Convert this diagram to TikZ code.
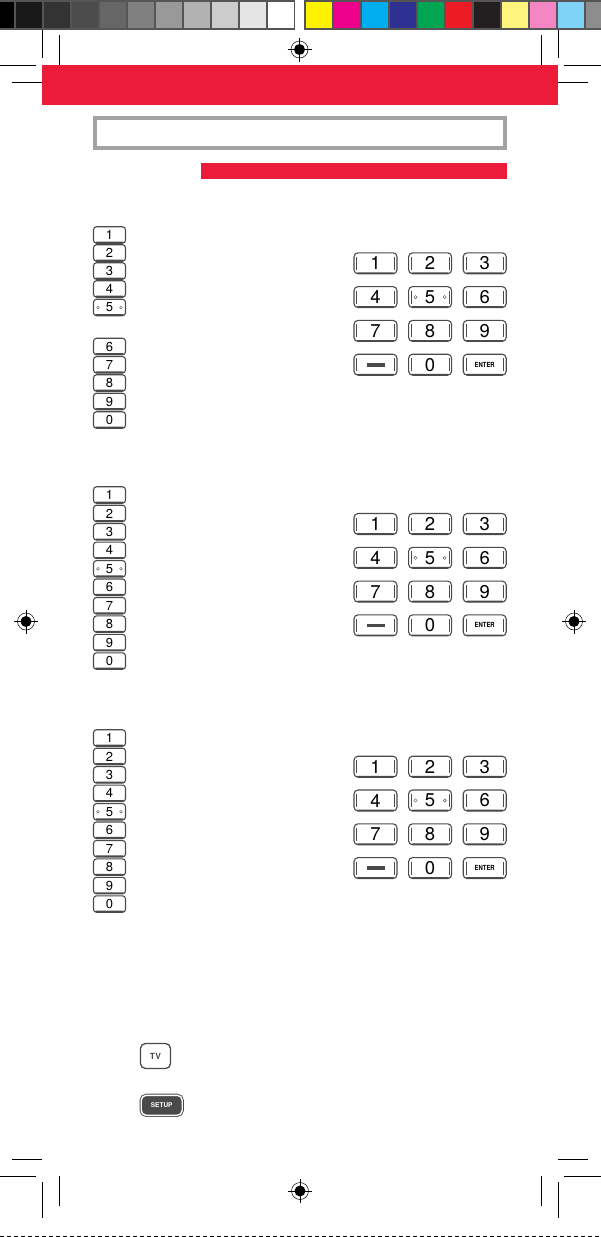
\documentclass[tikz,border=0pt]{standalone}
\usepackage{fontspec}
\setmainfont{TeX Gyre Heros}

\definecolor{bandred}{HTML}{ED1B3A}
\definecolor{boxgrey}{HTML}{A3A3A3}
\definecolor{keygrey}{HTML}{4A4A4A}
\definecolor{stripgrey}{HTML}{555555}

\def\listpitch{18.45}
\def\rowpitch{33.8}
\def\colpitch{54.6}

% registration mark, centred on the given coordinate
\newcommand\regmark[1]{%
  \draw[line width=0.5pt] #1 circle (8.5);
  \fill #1 circle (5.5);
  \draw[line width=0.7pt] #1 ++(-12,0) -- ++(24,0);
  \draw[line width=0.7pt] #1 ++(0,-12) -- ++(0,24);
}

\begin{document}
\begin{tikzpicture}[x=1pt,y=-1pt]
    \tikzstyle{list key}=[draw=keygrey, line width=1.1pt, rounded corners=3pt,
        minimum width=32pt, minimum height=16.5pt, inner sep=0pt,
        font=\fontsize{13}{13}\selectfont,
        path picture={\fill[keygrey] (path picture bounding box.south west)
            rectangle ([yshift=1.6pt]path picture bounding box.south east);}]
    \tikzstyle{pad key}=[draw=keygrey, line width=1.1pt, rounded corners=4pt,
        minimum width=43pt, minimum height=21pt, inner sep=0pt,
        font=\fontsize{18.5}{18.5}\selectfont,
        path picture={
            \draw[keygrey, line width=0.5pt]
                ([xshift=2.6pt,yshift=-4pt]path picture bounding box.north west)
                -- ([xshift=2.6pt,yshift=4pt]path picture bounding box.south west);
            \draw[keygrey, line width=0.5pt]
                ([xshift=-2.6pt,yshift=-4pt]path picture bounding box.north east)
                -- ([xshift=-2.6pt,yshift=4pt]path picture bounding box.south east);
            \fill[keygrey] (path picture bounding box.south west)
                rectangle ([yshift=1.4pt]path picture bounding box.south east);}]
    \tikzstyle{tactile}=[draw=keygrey, line width=0.4pt]
    \tikzstyle{crop}=[line width=0.9pt]

    \useasboundingbox (0,0) rectangle (601,1237);

    % Colour bar: grey steps on the left
    \fill[stripgrey] (0,0) rectangle (295,29.5);
    \foreach \i in {0,...,10} {
        \pgfmathsetmacro{\xa}{max(0,-12+28*\i)}
        \pgfmathsetmacro{\g}{100-10*\i}
        \fill[black!\g] (\xa,2) rectangle (-12+28*\i+26,28);
    }

    % Colour bar: process colours on the right
    \fill[stripgrey] (304,0) rectangle (601,29.5);
    \foreach \j / \c in {0/FFF200,1/EC008C,2/00AEEF,3/2E3192,4/00A651,5/ED1C24,
                         6/231F20,7/FFF57D,8/F386C3,9/7FD3F7,10/8D8D8D} {
        \definecolor{patch}{HTML}{\c}
        \fill[patch] (306+28*\j,2) rectangle ({min(601,332+28*\j)},28);
    }

    % Crop marks
    \draw[crop] (42,30) -- (42,58);
    \draw[crop] (59,35) -- (59,65);
    \draw[crop] (0,65.3) -- (36,65.3);
    \draw[crop] (12,82) -- (42,82);
    \draw[crop] (558,30) -- (558,58);
    \draw[crop] (541,35) -- (541,65);
    \draw[crop] (564,65.3) -- (601,65.3);
    \draw[crop] (558,82) -- (588,82);
    \draw[crop] (12,1159.3) -- (42,1159.3);
    \draw[crop] (0,1176.3) -- (36,1176.3);
    \draw[crop] (59.4,1176) -- (59.4,1206);
    \draw[crop] (42,1182) -- (42,1218);
    \draw[crop] (558,1159.3) -- (588,1159.3);
    \draw[crop] (564,1176.3) -- (601,1176.3);
    \draw[crop] (541,1176) -- (541,1206);
    \draw[crop] (558.4,1182) -- (558.4,1218);

    % Registration marks
    \regmark{(299.5,49.5)}
    \regmark{(26,621.5)}
    \regmark{(574,621.5)}
    \regmark{(300,1191)}

    % Header band, title frame and section bar
    \fill[bandred] (42,65) rectangle (558,105);
    \draw[boxgrey, line width=4pt] (95,118) rectangle (505,148);
    \fill[bandred] (201,163) rectangle (507,179);

    % First list of keys (two groups)
    \foreach \name / \y in {1/235,2/253,3/271,4/289,5/307.5,6/346.5,7/364.8,8/383,9/401.5,0/420}
        \node[list key] (A-\name) at (109.5,\y) {\name};

    % Second and third lists of keys
    \foreach \name [count=\k] in {1,2,3,4,5,6,7,8,9,0}
        \node[list key] (B-\name) at (109.5,{495+\listpitch*(\k-1)}) {\name};
    \foreach \name [count=\k] in {1,2,3,4,5,6,7,8,9,0}
        \node[list key] (C-\name) at (109.5,{738+\listpitch*(\k-1)}) {\name};

    % Tactile dots on the 5 keys
    \foreach \lst in {A,B,C} {
        \draw[tactile] ([xshift=5pt]\lst-5.west) circle (1.4);
        \draw[tactile] ([xshift=-5pt]\lst-5.east) circle (1.4);
    }

    % Keypads
    \foreach \pad / \yb in {1/263.3,2/524,3/766.7} {
        \foreach \name / \c / \r in {1/0/0,2/1/0,3/2/0,4/0/1,5/1/1,6/2/1,7/0/2,8/1/2,9/2/2,0/1/3}
            \node[pad key] (P\pad-\name) at ({375.5+\colpitch*\c},{\yb+\rowpitch*\r}) {\name};
        \node[pad key] (P\pad-minus) at (375.5,{\yb+\rowpitch*3})
            {{\color{keygrey}\rule{18pt}{3.6pt}}};
        \node[pad key, font=\fontsize{7}{7}\selectfont\bfseries] (P\pad-enter)
            at ({375.5+\colpitch*2},{\yb+\rowpitch*3}) {\scalebox{0.85}[1]{ENTER}};
        \draw[tactile] ([xshift=7.5pt]P\pad-5.west) circle (1.6);
        \draw[tactile] ([xshift=-7.5pt]P\pad-5.east) circle (1.6);
    }

    % TV and SETUP buttons
    \node[draw=keygrey, line width=1.3pt, rounded corners=5pt, minimum width=30pt,
        minimum height=25pt, inner sep=0pt, font=\fontsize{8.5}{8.5}\selectfont\bfseries,
        text=keygrey] (tv) at (155.5,1056) {TV};
    \node[draw=keygrey, fill=keygrey, double=white, double distance=1.4pt,
        line width=0.9pt, rounded corners=5pt, minimum width=41pt, minimum height=20pt,
        inner sep=0pt, font=\fontsize{6.5}{6.5}\selectfont\bfseries, text=white]
        (setup) at (161.7,1105.3) {SETUP};

    % Trim line at the foot
    \draw[line width=0.6pt, dash pattern=on 4pt off 3pt] (0,1236.7) -- (601,1236.7);
\end{tikzpicture}
\end{document}
